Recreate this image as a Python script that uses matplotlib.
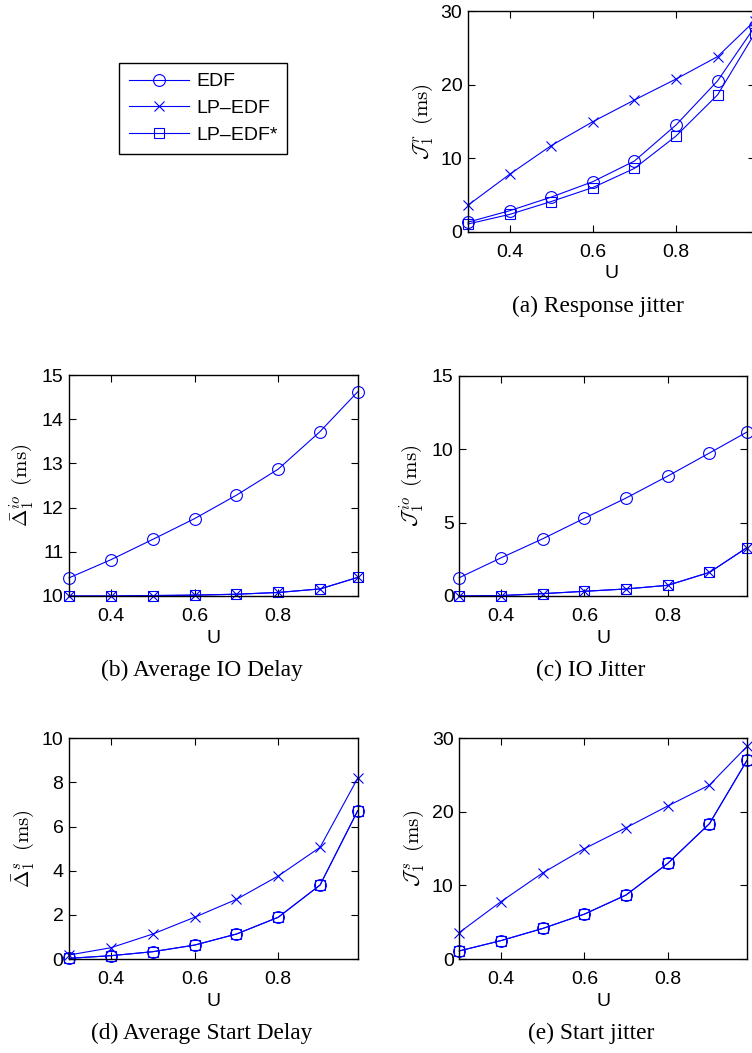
import matplotlib
matplotlib.use("Agg")
import matplotlib.pyplot as plt

plt.rcParams["font.family"] = ["Liberation Sans", "DejaVu Sans"]
plt.rcParams["mathtext.fontset"] = "cm"

# Utilization levels
U = [0.3, 0.4, 0.5, 0.6, 0.7, 0.8, 0.9, 0.99]

# (a) Response jitter
resp_edf = [1.3, 2.85, 4.7, 6.8, 9.6, 14.5, 20.5, 27.9]
resp_lp = [3.6, 7.8, 11.7, 14.95, 17.9, 20.75, 23.8, 28.7]
resp_lps = [1.05, 2.35, 4.1, 6.0, 8.6, 13.0, 18.6, 27.0]

# (b) Average IO delay
iod_edf = [10.41, 10.82, 11.28, 11.75, 12.28, 12.87, 13.72, 14.62]
iod_lp = [10.0, 10.0, 10.01, 10.02, 10.04, 10.08, 10.16, 10.42]
iod_lps = [10.0, 10.0, 10.01, 10.02, 10.04, 10.08, 10.16, 10.42]

# (c) IO jitter
ioj_edf = [1.25, 2.6, 3.9, 5.3, 6.68, 8.18, 9.75, 11.18]
ioj_lp = [0.0, 0.03, 0.16, 0.32, 0.48, 0.73, 1.61, 3.3]
ioj_lps = [0.0, 0.03, 0.16, 0.32, 0.48, 0.73, 1.61, 3.3]

# (d) Average start delay
sd_edf = [0.03, 0.15, 0.33, 0.63, 1.13, 1.89, 3.35, 6.72]
sd_lp = [0.18, 0.51, 1.13, 1.89, 2.7, 3.76, 5.06, 8.19]
sd_lps = [0.03, 0.15, 0.33, 0.63, 1.13, 1.89, 3.35, 6.72]

# (e) Start jitter
sj_edf = [1.1, 2.5, 4.15, 6.1, 8.7, 13.0, 18.4, 27.0]
sj_lp = [3.6, 7.8, 11.7, 15.0, 17.85, 20.8, 23.65, 28.9]
sj_lps = [1.1, 2.5, 4.15, 6.1, 8.7, 13.0, 18.4, 27.0]

series_names = ["EDF", "LP\u2013EDF", "LP\u2013EDF*"]
x_ticks = [0.4, 0.6, 0.8]

W, H = 752, 1053
fig = plt.figure(figsize=(W / 100, H / 100), dpi=100)


def box(l, r, t, b):
    return [l / W, 1 - b / H, (r - l) / W, (b - t) / H]


BLUE = "#0000ff"
styles = [
    dict(marker="o", markersize=8.5),
    dict(marker="x", markersize=6.5),
    dict(marker="s", markersize=6.5),
]

panels = [
    (box(468, 755, 11, 231.7), (resp_edf, resp_lp, resp_lps), (0, 30), [0, 10, 20, 30],
     r"$\mathcal{J}_1^{\,r}\;\;\mathrm{(ms)}$", "(a) Response jitter", 598),
    (box(69, 357.7, 375, 596), (iod_edf, iod_lp, iod_lps), (10, 15), [10, 11, 12, 13, 14, 15],
     r"$\bar{\Delta}_1^{io}\;\;\mathrm{(ms)}$", "(b) Average IO Delay", 202),
    (box(459.3, 747, 376, 596), (ioj_edf, ioj_lp, ioj_lps), (0, 15), [0, 5, 10, 15],
     r"$\mathcal{J}_1^{\,io}\;\;\mathrm{(ms)}$", "(c) IO Jitter", 591),
    (box(69, 357.7, 738.3, 959), (sd_edf, sd_lp, sd_lps), (0, 10), [0, 2, 4, 6, 8, 10],
     r"$\bar{\Delta}_1^{s}\;\;\mathrm{(ms)}$", "(d) Average Start Delay", 202),
    (box(459.3, 747, 738.3, 959), (sj_edf, sj_lp, sj_lps), (0, 30), [0, 10, 20, 30],
     r"$\mathcal{J}_1^{\,s}\;\;\mathrm{(ms)}$", "(e) Start jitter", 591),
]

handles = None
for rect, ys, ylim, yticks, ylabel, caption, cap_x in panels:
    ax = fig.add_axes(rect)
    lines = []
    for y, st, name in zip(ys, styles, series_names):
        (ln,) = ax.plot(U, y, color=BLUE, linewidth=0.8, markerfacecolor="none",
                        markeredgecolor=BLUE, markeredgewidth=0.8, clip_on=False,
                        label=name, **st)
        lines.append(ln)
    if handles is None:
        handles = lines
    ax.set_xlim(0.3, 0.99)
    ax.set_ylim(*ylim)
    ax.set_xticks(x_ticks)
    ax.set_xticklabels(["0.4", "0.6", "0.8"])
    ax.set_yticks(yticks)
    ax.tick_params(direction="in", length=5, width=0.8, labelsize=14,
                   top=True, right=True)
    ax.tick_params(axis="x", pad=8.5)
    ax.tick_params(axis="y", pad=4)
    for sp in ax.spines.values():
        sp.set_linewidth(1.0)
    ax.set_xlabel("U", fontsize=14, labelpad=3.5)
    ax.set_ylabel(ylabel, fontsize=15, labelpad=4)
    # caption below each panel
    bottom_px = (1 - rect[1]) * H
    fig.text(cap_x / W, 1 - (bottom_px + 80) / H, caption, ha="center",
             va="baseline", fontsize=16.8, family="Liberation Serif")

fig.legend(handles, series_names, loc="upper left",
           bbox_to_anchor=(119 / W, 1 - 63 / H), borderaxespad=0,
           fontsize=14, frameon=True, fancybox=False, edgecolor="black",
           handlelength=3.1, handletextpad=0.36, labelspacing=0.48,
           borderpad=0.5, framealpha=1)
fig.legends[0].get_frame().set_linewidth(1.0)

fig.savefig("out.png", dpi=100)
